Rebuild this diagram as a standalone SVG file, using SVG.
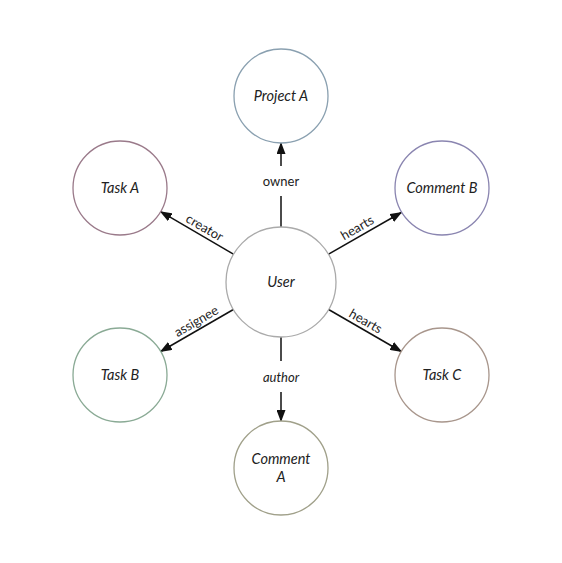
<svg xmlns="http://www.w3.org/2000/svg" width="562" height="563" viewBox="0 0 562 563">
<defs>
<style>
.node{fill:#fff;stroke-width:1.3}
.nl{font-family:Lato,"DejaVu Sans",sans-serif;font-style:italic;font-size:14.5px;fill:#222;text-anchor:middle}
.el{font-family:Lato,"DejaVu Sans",sans-serif;font-size:13px;fill:#222;text-anchor:middle}
.edge{fill:none;stroke:#111;stroke-width:1.5}
</style>
<marker id="arr" markerUnits="userSpaceOnUse" markerWidth="12" markerHeight="9" refX="11" refY="4.5" orient="auto" viewBox="0 0 12 9">
<path d="M0,0 L12,4.5 L0,9 z" fill="#111"/>
</marker>
</defs>
<rect width="562" height="563" fill="#fff"/>
<g id="edges">
<path class="edge" d="M281,227 V196 M281,166 V143" marker-end="url(#arr)"/>
<text class="el" x="281" y="186">owner</text>
<path class="edge" d="M281,337 V361 M281,392 V421" marker-end="url(#arr)"/>
<text class="el" x="281" y="382" font-style="italic">author</text>
<path class="edge" d="M233.4,254.2 L160.7,211.7" marker-end="url(#arr)"/>
<text class="el" transform="translate(197,233) rotate(30)" x="4" y="-4">creator</text>
<path class="edge" d="M328.6,254.2 L401.3,212.5" marker-end="url(#arr)"/>
<text class="el" transform="translate(365,233) rotate(-30)" x="-4" y="-4">hearts</text>
<path class="edge" d="M233.4,309.5 L160.7,351.5" marker-end="url(#arr)"/>
<text class="el" transform="translate(197,330.5) rotate(-30)" x="4" y="-4">assignee</text>
<path class="edge" d="M328.6,309.5 L401.3,351.5" marker-end="url(#arr)"/>
<text class="el" transform="translate(365,330.5) rotate(30)" x="-4" y="-4">hearts</text>
</g>
<g id="user"><circle class="node" cx="281" cy="282" r="55" stroke="#aaaaaa"/><text class="nl" x="281" y="287">User</text></g>
<g id="projectA"><circle class="node" cx="281" cy="96" r="47" stroke="#8aa0b0"/><text class="nl" x="281" y="101">Project A</text></g>
<g id="taskA"><circle class="node" cx="120" cy="188" r="47" stroke="#9a7a8a"/><text class="nl" x="120" y="193">Task A</text></g>
<g id="commentB"><circle class="node" cx="442" cy="188" r="47" stroke="#8a85b0"/><text class="nl" x="442" y="193">Comment B</text></g>
<g id="taskB"><circle class="node" cx="120" cy="375" r="47" stroke="#8aaa95"/><text class="nl" x="120" y="380">Task B</text></g>
<g id="taskC"><circle class="node" cx="442" cy="375" r="47" stroke="#a8968c"/><text class="nl" x="442" y="380">Task C</text></g>
<g id="commentA"><circle class="node" cx="281" cy="468" r="47" stroke="#a0a08a"/><text class="nl" x="281" y="464">Comment</text><text class="nl" x="281" y="482">A</text></g>
</svg>
